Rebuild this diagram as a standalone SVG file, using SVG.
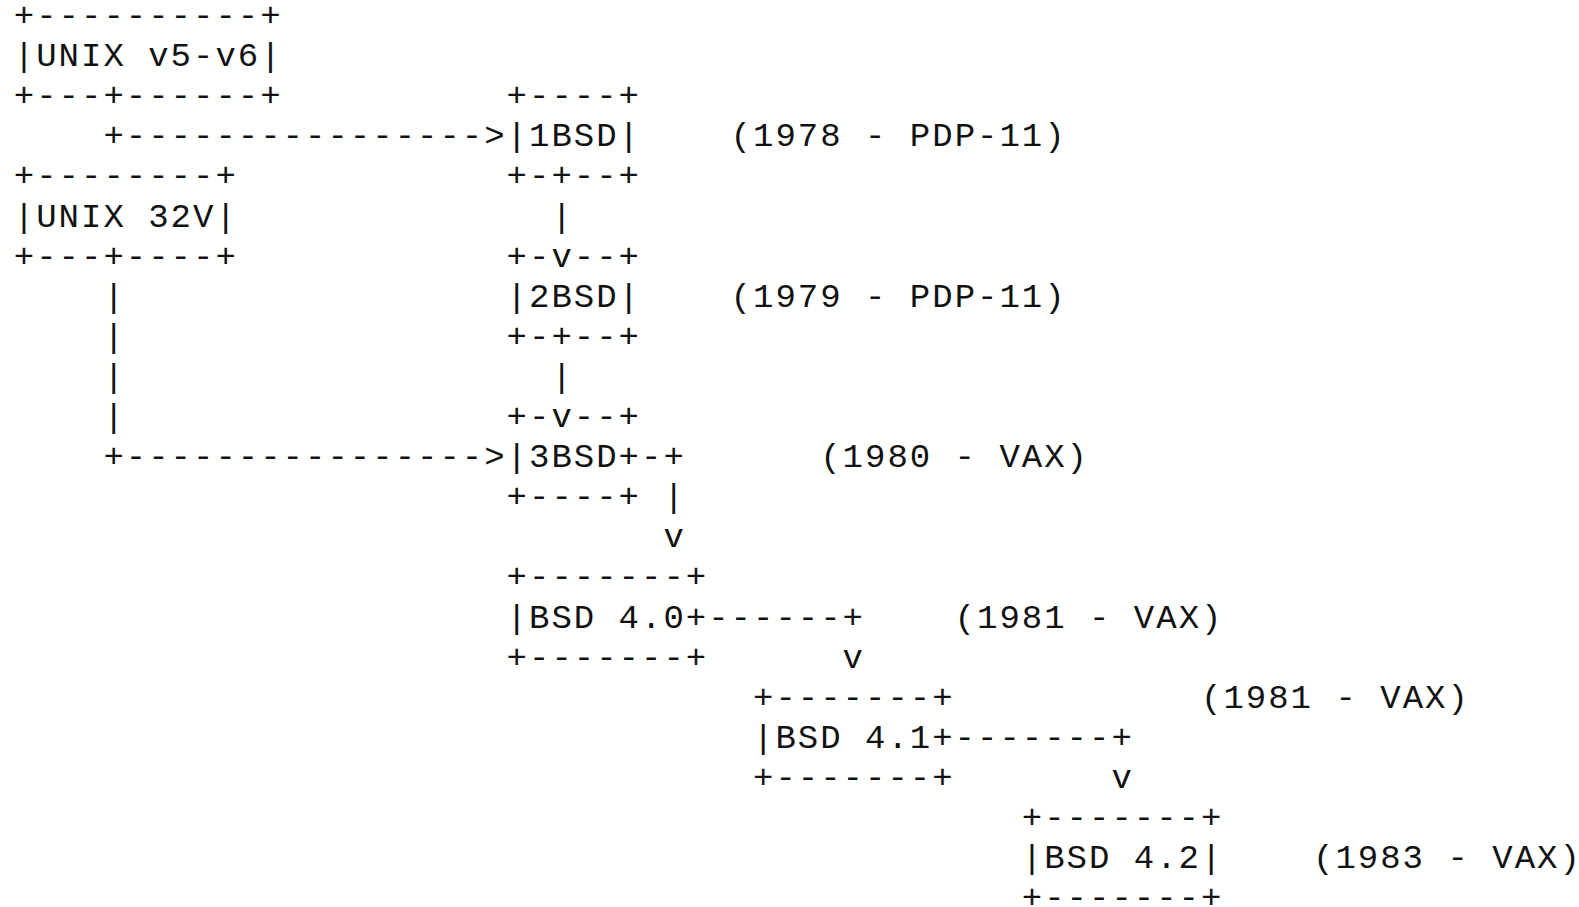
<svg xmlns="http://www.w3.org/2000/svg" width="1579" height="907" viewBox="0 0 1579 907">
  <style>
    text { font-family: "Liberation Mono", "DejaVu Sans Mono", monospace; font-size: 34px; letter-spacing: 2px; fill: #111; white-space: pre; }
  </style>
  <rect width="1579" height="907" fill="#fff"/>
  <!-- Character grid: column c starts at x = 13.8 + 22.4*c; row r baseline at y = 26 + 40.1*(r-1) -->

  <g id="node-unix-v5-v6">
    <text x="13.8" y="26">+----------+</text>
    <text x="13.8" y="66.1">|UNIX v5-v6|</text>
    <text x="13.8" y="106.2">+---+------+</text>
  </g>

  <g id="node-1bsd">
    <text x="506.6" y="106.2">+----+</text>
    <text x="506.6" y="146.3">|1BSD|</text>
    <text x="506.6" y="186.4">+-+--+</text>
    <text x="730.6" y="146.3">(1978 - PDP-11)</text>
  </g>

  <g id="node-unix-32v">
    <text x="13.8" y="186.4">+--------+</text>
    <text x="13.8" y="226.5">|UNIX 32V|</text>
    <text x="13.8" y="266.6">+---+----+</text>
  </g>

  <g id="node-2bsd">
    <text x="506.6" y="266.6">+-v--+</text>
    <text x="506.6" y="306.7">|2BSD|</text>
    <text x="506.6" y="346.8">+-+--+</text>
    <text x="730.6" y="306.7">(1979 - PDP-11)</text>
  </g>

  <g id="node-3bsd">
    <text x="506.6" y="427">+-v--+</text>
    <text x="506.6" y="467.1">|3BSD+</text>
    <text x="506.6" y="507.2">+----+</text>
    <text x="820.2" y="467.1">(1980 - VAX)</text>
  </g>

  <g id="node-bsd-4-0">
    <text x="506.6" y="587.4">+-------+</text>
    <text x="506.6" y="627.5">|BSD 4.0+</text>
    <text x="506.6" y="667.6">+-------+</text>
    <text x="954.6" y="627.5">(1981 - VAX)</text>
  </g>

  <g id="node-bsd-4-1">
    <text x="753" y="707.7">+-------+</text>
    <text x="753" y="747.8">|BSD 4.1+</text>
    <text x="753" y="787.9">+-------+</text>
    <text x="1201" y="707.7">(1981 - VAX)</text>
  </g>

  <g id="node-bsd-4-2">
    <text x="1021.8" y="828">+-------+</text>
    <text x="1021.8" y="868.1">|BSD 4.2|</text>
    <text x="1021.8" y="907.5">+-------+</text>
    <text x="1313" y="868.1">(1983 - VAX)</text>
  </g>

  <g id="connectors">
    <!-- UNIX v5-v6 -> 1BSD -->
    <text x="103.4" y="146.3">+----------------></text>
    <!-- UNIX 32V -> 3BSD -->
    <text x="103.4" y="306.7">|</text>
    <text x="103.4" y="346.8">|</text>
    <text x="103.4" y="386.9">|</text>
    <text x="103.4" y="427">|</text>
    <text x="103.4" y="467.1">+----------------></text>
    <!-- 1BSD -> 2BSD -->
    <text x="551.4" y="226.5">|</text>
    <!-- 2BSD -> 3BSD -->
    <text x="551.4" y="386.9">|</text>
    <!-- 3BSD -> BSD 4.0 -->
    <text x="641" y="467.1">-+</text>
    <text x="663.4" y="507.2">|</text>
    <text x="663.4" y="547.3">v</text>
    <!-- BSD 4.0 -> BSD 4.1 -->
    <text x="708.2" y="627.5">------+</text>
    <text x="842.6" y="667.6">v</text>
    <!-- BSD 4.1 -> BSD 4.2 -->
    <text x="954.6" y="747.8">-------+</text>
    <text x="1111.4" y="787.9">v</text>
  </g>
</svg>
